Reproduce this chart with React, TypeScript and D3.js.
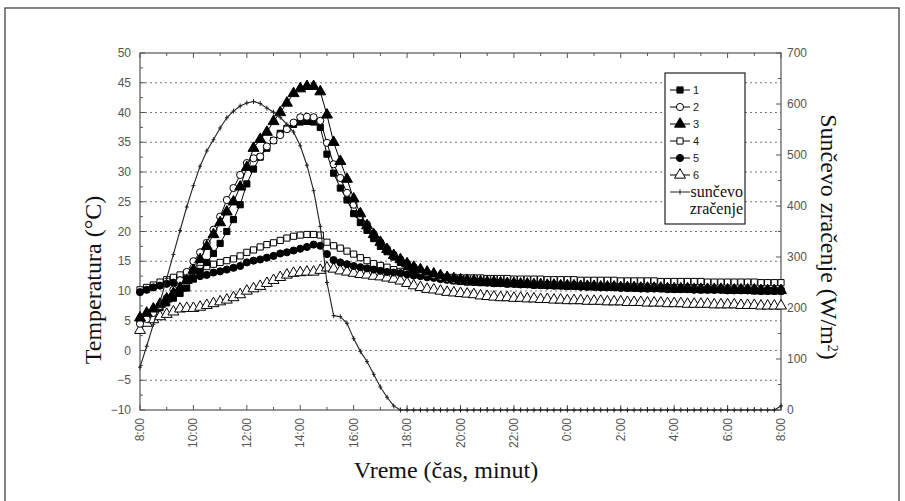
import React from 'react';
import * as d3 from 'd3';

// 15-minute samples from 8:00 to 8:00 next day (97 points)
const hourLabels = ["8:00", "10:00", "12:00", "14:00", "16:00", "18:00", "20:00", "22:00", "0:00", "2:00", "4:00", "6:00", "8:00"];
const tempTicks = [-10, -5, 0, 5, 10, 15, 20, 25, 30, 35, 40, 45, 50];
const radTicks = [0, 100, 200, 300, 400, 500, 600, 700];
const seriesNames = ["1", "2", "3", "4", "5", "6"];

const t1 = [
  5.0, 5.8, 6.5, 7.2, 8.0, 8.8, 9.6, 10.5,
  12.0, 13.3, 14.8, 16.3, 18.0, 20.0, 22.0, 24.5,
  28.0, 30.5, 32.5, 34.0, 35.3, 36.5, 37.3, 38.0,
  38.4, 38.5, 38.4, 37.5, 33.0, 29.8, 27.3, 25.3,
  23.0, 21.5, 20.2, 18.8, 17.5, 16.6, 15.7, 14.8,
  14.2, 13.6, 13.1, 12.7, 12.4, 12.1, 11.9, 11.7,
  11.6, 11.5, 11.5, 11.4, 11.4, 11.3, 11.3, 11.2,
  11.2, 11.1, 11.1, 11.0, 11.0, 11.0, 10.9, 10.9,
  10.8, 10.9, 10.8, 10.7, 10.7, 10.7, 10.6, 10.6,
  10.6, 10.5, 10.5, 10.5, 10.4, 10.5, 10.4, 10.4,
  10.3, 10.3, 10.3, 10.3, 10.2, 10.2, 10.2, 10.2,
  10.1, 10.1, 10.1, 10.1, 10.0, 10.0, 10.0, 10.0,
  10.0,
];
const t2 = [
  4.5, 5.3, 6.3, 7.5, 8.8, 10.2, 11.8, 13.2,
  15.0, 16.5, 18.1, 20.3, 22.5, 25.3, 27.3, 29.5,
  31.5, 32.3, 32.6, 34.3, 35.3, 36.2, 37.2, 38.3,
  39.2, 39.3, 39.2, 38.6, 34.9, 31.3, 29.0, 26.5,
  24.5, 22.6, 21.2, 19.6, 18.2, 17.1, 16.1, 15.3,
  14.6, 14.0, 13.4, 13.0, 12.7, 12.4, 12.1, 11.9,
  11.8, 11.7, 11.6, 11.6, 11.5, 11.5, 11.4, 11.4,
  11.3, 11.3, 11.2, 11.2, 11.1, 11.1, 11.1, 11.0,
  11.0, 11.0, 10.9, 10.9, 10.9, 10.8, 10.8, 10.8,
  10.7, 10.7, 10.7, 10.7, 10.6, 10.6, 10.6, 10.6,
  10.5, 10.5, 10.5, 10.5, 10.4, 10.4, 10.4, 10.4,
  10.4, 10.3, 10.3, 10.3, 10.3, 10.3, 10.2, 10.2,
  10.2,
];
const t3 = [
  5.5, 6.3, 7.0, 7.8, 8.7, 9.6, 10.5, 11.8,
  13.5, 15.3, 17.5, 19.5, 21.5, 23.3, 25.0, 27.5,
  30.8, 34.0, 35.5, 36.7, 38.5, 40.0, 41.6, 43.2,
  44.0, 44.4, 44.4, 43.5, 39.6, 35.0, 31.8, 28.8,
  25.5, 23.0, 21.0, 19.5, 18.2, 17.0, 16.0, 15.3,
  14.6, 14.0, 13.6, 13.2, 12.9, 12.6, 12.3, 12.1,
  11.9, 11.8, 11.7, 11.6, 11.5, 11.5, 11.4, 11.3,
  11.3, 11.2, 11.2, 11.1, 11.1, 11.0, 11.0, 10.9,
  10.9, 10.9, 10.8, 10.8, 10.8, 10.7, 10.7, 10.7,
  10.6, 10.6, 10.6, 10.5, 10.5, 10.5, 10.5, 10.4,
  10.4, 10.4, 10.4, 10.3, 10.3, 10.3, 10.3, 10.3,
  10.2, 10.2, 10.2, 10.2, 10.2, 10.1, 10.1, 10.1,
  10.1,
];
const t4 = [
  10.2, 10.6, 11.0, 11.5, 11.9, 12.3, 12.7, 13.0,
  13.4, 13.8, 14.1, 14.5, 14.8, 15.1, 15.4, 15.9,
  16.5, 16.9, 17.4, 17.8, 18.1, 18.5, 18.9, 19.2,
  19.4, 19.5, 19.5, 19.4, 18.2, 17.6, 17.2, 16.7,
  16.2, 15.6, 15.1, 14.6, 14.3, 14.0, 13.6, 13.3,
  13.1, 12.9, 12.8, 12.6, 12.5, 12.4, 12.3, 12.3,
  12.2, 12.2, 12.2, 12.2, 12.1, 12.1, 12.1, 12.1,
  12.0, 12.0, 12.0, 12.0, 12.0, 11.9, 11.9, 11.9,
  11.9, 11.9, 11.8, 11.8, 11.8, 11.8, 11.8, 11.8,
  11.7, 11.7, 11.7, 11.7, 11.7, 11.7, 11.6, 11.6,
  11.6, 11.6, 11.6, 11.6, 11.6, 11.5, 11.5, 11.5,
  11.5, 11.5, 11.5, 11.5, 11.5, 11.4, 11.4, 11.4,
  11.4,
];
const t5 = [
  9.8, 10.2, 10.6, 10.9, 11.2, 11.4, 11.8, 12.0,
  12.2, 12.5, 12.7, 13.1, 13.3, 13.6, 13.9, 14.2,
  14.8, 15.1, 15.3, 15.6, 15.9, 16.3, 16.5, 16.8,
  17.1, 17.4, 17.8, 17.6, 16.2, 15.2, 14.8, 14.5,
  14.2, 14.0, 13.8, 13.6, 13.4, 13.2, 13.1, 13.0,
  12.8, 12.6, 12.5, 12.3, 12.2, 12.0, 11.9, 11.8,
  11.7, 11.6, 11.5, 11.5, 11.4, 11.3, 11.3, 11.2,
  11.2, 11.1, 11.1, 11.0, 11.0, 10.9, 10.9, 10.9,
  10.8, 10.8, 10.7, 10.7, 10.7, 10.6, 10.6, 10.6,
  10.5, 10.5, 10.5, 10.4, 10.4, 10.4, 10.4, 10.3,
  10.3, 10.3, 10.3, 10.2, 10.2, 10.2, 10.2, 10.2,
  10.1, 10.1, 10.1, 10.1, 10.1, 10.0, 10.0, 10.0,
  10.0,
];
const t6 = [
  3.4, 4.6, 5.2, 5.7, 6.1, 6.5, 7.0, 7.1,
  7.1, 7.3, 7.6, 7.9, 8.2, 8.5, 8.9, 9.4,
  10.0, 10.4, 10.8, 11.3, 11.8, 12.3, 12.7, 13.0,
  13.1, 13.2, 13.2, 13.5, 13.9, 13.7, 13.4, 13.2,
  13.0, 12.8, 12.7, 12.5, 12.4, 12.2, 12.0, 11.7,
  11.3, 10.9, 10.6, 10.3, 10.2, 10.0, 9.8, 9.7,
  9.6, 9.5, 9.4, 9.2, 9.1, 9.0, 8.9, 8.9,
  8.8, 8.8, 8.7, 8.7, 8.6, 8.6, 8.5, 8.5,
  8.4, 8.4, 8.4, 8.3, 8.3, 8.3, 8.2, 8.2,
  8.2, 8.1, 8.1, 8.1, 8.0, 8.0, 8.0, 7.9,
  7.9, 7.9, 7.8, 7.8, 7.8, 7.8, 7.7, 7.7,
  7.7, 7.7, 7.6, 7.6, 7.6, 7.5, 7.5, 7.5,
  7.5,
];
const radiation = [
  84, 125, 168, 212, 258, 305, 352, 398,
  440, 478, 508, 530, 553, 573, 586, 596,
  602, 605, 601, 592, 584, 574, 560, 545,
  518, 480, 430, 360, 250, 185, 183, 170,
  140, 115, 95, 70, 45, 25, 8, 0,
  0, 0, 0, 0, 0, 0, 0, 0,
  0, 0, 0, 0, 0, 0, 0, 0,
  0, 0, 0, 0, 0, 0, 0, 0,
  0, 0, 0, 0, 0, 0, 0, 0,
  0, 0, 0, 0, 0, 0, 0, 0,
  0, 0, 0, 0, 0, 0, 0, 0,
  0, 0, 0, 0, 0, 0, 0, 0,
  8,
];

const STEP_H = 0.25;
const SANS = "Liberation Sans, Arial, sans-serif";
const SERIF = "Liberation Serif, Times New Roman, serif";
const AX = "#555";

type MarkerStyle = { type: d3.SymbolType; size: number; filled: boolean };
const markerStyles: MarkerStyle[] = [
  { type: d3.symbolSquare, size: 38, filled: true },
  { type: d3.symbolCircle, size: 40, filled: false },
  { type: d3.symbolTriangle, size: 52, filled: true },
  { type: d3.symbolSquare, size: 38, filled: false },
  { type: d3.symbolCircle, size: 40, filled: true },
  { type: d3.symbolTriangle, size: 52, filled: false },
];

export default function App() {
  const W = 905, H = 501;
  const L = 140, R = 781, T = 53, B = 410;
  const x = d3.scaleLinear().domain([0, 24]).range([L, R]);
  const yT = d3.scaleLinear().domain([-10, 50]).range([B, T]);
  const yR = d3.scaleLinear().domain([0, 700]).range([B, T]);

  const temps = [t1, t2, t3, t4, t5, t6];
  const tLine = d3.line<number>().x((_, i) => x(i * STEP_H)).y((d) => yT(d));
  const rLine = d3.line<number>().x((_, i) => x(i * STEP_H)).y((d) => yR(d));

  const drawOrder = [3, 5, 4, 0, 1, 2];
  const hours = d3.range(0, 25);
  const minorT = d3.range(-7.5, 50, 5);
  const minorR = d3.range(50, 700, 100);

  const legendX = 665, legendY = 73, legendW = 80, legendH = 151;
  const rowY = (k: number) => 90 + k * 17;

  return (
    <svg width={W} height={H} style={{ position: 'absolute', left: 0, top: 0, background: '#fff' }}>
      <rect x={5} y={8} width={894} height={500} fill="none" stroke="#333" strokeWidth={1.2} />

      {/* grid */}
      {tempTicks.filter((v) => v > -10 && v < 50).map((v) => (
        <line key={'g' + v} x1={L} x2={R} y1={yT(v)} y2={yT(v)} stroke="#777" strokeWidth={1} strokeDasharray="2,3" />
      ))}

      {/* axes frame */}
      <rect x={L} y={T} width={R - L} height={B - T} fill="none" stroke={AX} strokeWidth={1.2} />

      {/* left ticks */}
      {tempTicks.map((v) => (
        <g key={'lt' + v}>
          <line x1={L} x2={L + 5} y1={yT(v)} y2={yT(v)} stroke={AX} />
          <text x={131} y={yT(v) + 4} textAnchor="end" fontFamily={SANS} fontSize={12} fill="#555">
            {v < 0 ? '\u2212' + Math.abs(v) : String(v)}
          </text>
        </g>
      ))}
      {minorT.map((v) => (
        <line key={'lm' + v} x1={L} x2={L + 3} y1={yT(v)} y2={yT(v)} stroke={AX} />
      ))}

      {/* right ticks */}
      {radTicks.map((v) => (
        <g key={'rt' + v}>
          <line x1={R} x2={R - 5} y1={yR(v)} y2={yR(v)} stroke={AX} />
          <text x={787} y={yR(v) + 4} textAnchor="start" fontFamily={SANS} fontSize={12} fill="#555">{v}</text>
        </g>
      ))}
      {minorR.map((v) => (
        <line key={'rm' + v} x1={R} x2={R - 3} y1={yR(v)} y2={yR(v)} stroke={AX} />
      ))}

      {/* top and bottom ticks */}
      {hours.map((h) => {
        const len = h % 2 === 0 ? 5 : 3;
        return (
          <g key={'h' + h}>
            <line x1={x(h)} x2={x(h)} y1={B} y2={B - len} stroke={AX} />
            <line x1={x(h)} x2={x(h)} y1={T} y2={T + len} stroke={AX} />
          </g>
        );
      })}
      {hourLabels.map((lab, k) => (
        <text key={'xl' + k} transform={`translate(${x(k * 2) + 4},418) rotate(-90)`} textAnchor="end"
          fontFamily={SANS} fontSize={12} fill="#555">{lab}</text>
      ))}

      {/* temperature series */}
      {drawOrder.map((si) => {
        const st = markerStyles[si];
        const path = d3.symbol().type(st.type).size(st.size)() as string;
        return (
          <g key={'s' + si}>
            <path d={tLine(temps[si]) as string} fill="none" stroke="#000" strokeWidth={1} />
            {temps[si].map((v, i) => (
              <path key={i} d={path} transform={`translate(${x(i * STEP_H)},${yT(v)})`}
                fill={st.filled ? '#000' : '#fff'} stroke="#000" strokeWidth={1} />
            ))}
          </g>
        );
      })}

      {/* radiation */}
      <path d={rLine(radiation) as string} fill="none" stroke="#222" strokeWidth={1.1} />
      {radiation.map((v, i) => (
        <g key={'r' + i} stroke="#222" strokeWidth={1}>
          <line x1={x(i * STEP_H)} x2={x(i * STEP_H)} y1={yR(v) - 2.5} y2={yR(v) + 2.5} />
          <line x1={x(i * STEP_H) - 2} x2={x(i * STEP_H) + 2} y1={yR(v)} y2={yR(v)} />
        </g>
      ))}

      {/* legend */}
      <rect x={legendX} y={legendY} width={legendW} height={legendH} fill="#fff" stroke="#222" strokeWidth={1.2} />
      {seriesNames.map((name, k) => {
        const st = markerStyles[k];
        const path = d3.symbol().type(st.type).size(st.size)() as string;
        const yy = rowY(k);
        return (
          <g key={'lg' + k}>
            <line x1={670} x2={690} y1={yy} y2={yy} stroke="#000" />
            <path d={path} transform={`translate(680,${yy})`} fill={st.filled ? '#000' : '#fff'} stroke="#000" />
            <text x={693} y={yy + 4} fontFamily={SANS} fontSize={11} fill="#222">{name}</text>
          </g>
        );
      })}
      <g>
        <line x1={670} x2={690} y1={rowY(6)} y2={rowY(6)} stroke="#222" />
        <line x1={680} x2={680} y1={rowY(6) - 2.5} y2={rowY(6) + 2.5} stroke="#222" />
        <text x={743} y={rowY(6) + 5} textAnchor="end" fontFamily={SERIF} fontSize={16} fill="#111">sunčevo</text>
        <text x={743} y={rowY(7) + 5} textAnchor="end" fontFamily={SERIF} fontSize={16} fill="#111">zračenje</text>
      </g>

      {/* axis titles */}
      <text transform="translate(101,280) rotate(-90)" textAnchor="middle" fontFamily={SERIF} fontSize={24} fill="#111">
        Temperatura (°C)
      </text>
      <text transform="translate(821,237) rotate(90)" textAnchor="middle" fontFamily={SERIF} fontSize={24} fill="#111">
        Sunčevo zračenje (W/m<tspan baselineShift="super" fontSize={14}>2</tspan>)
      </text>
      <text x={446} y={478} textAnchor="middle" fontFamily={SERIF} fontSize={24} fill="#111">Vreme (čas, minut)</text>
    </svg>
  );
}
